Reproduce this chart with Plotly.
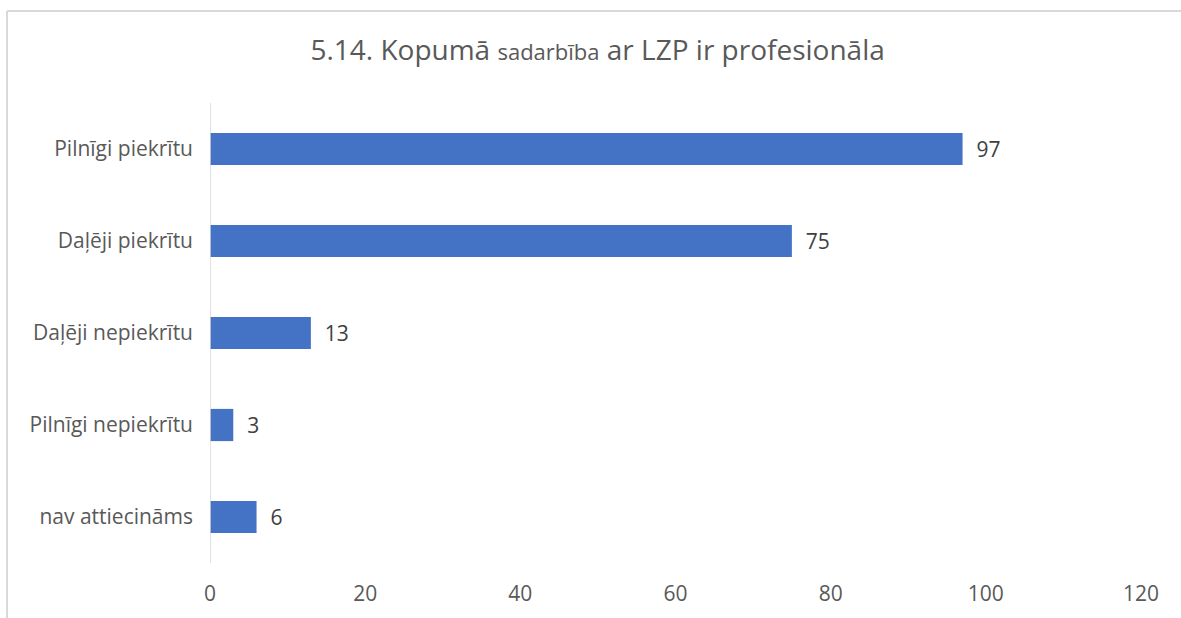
import plotly.graph_objects as go

categories = ["Pilnīgi piekrītu", "Daļēji piekrītu", "Daļēji nepiekrītu", "Pilnīgi nepiekrītu", "nav attiecināms"]
values = [97, 75, 13, 3, 6]
x_ticks = [0, 20, 40, 60, 80, 100, 120]

FONT = "'Open Sans', sans-serif"
W, H = 1181, 618
L, R, T, B = 210, 40, 103, 55
pw, ph = W - L - R, H - T - B
FS = 21

fig = go.Figure(go.Bar(
    x=values, y=categories, orientation="h",
    marker=dict(color="#4472C4", line=dict(width=0)),
    width=0.35,
    text=values, texttemplate="\u00a0\u00a0%{x}", textposition="outside",
    textfont=dict(family=FONT, size=FS, color="#404040"),
    cliponaxis=False,
))

fig.update_layout(
    width=W, height=H,
    margin=dict(l=L, r=R, t=T, b=B),
    paper_bgcolor="white", plot_bgcolor="white",
    font=dict(family=FONT, color="#595959", size=FS),
    title=dict(
        text="5.14. Kopumā <span style='font-size:22px'>sadarbība</span> ar LZP ir profesionāla",
        x=0.506, xanchor="center", y=0.918, yanchor="middle",
        font=dict(family=FONT, size=28, color="#595959"),
    ),
    showlegend=False,
    xaxis=dict(range=[0, 120], tickvals=x_ticks, showgrid=False, zeroline=False,
               showline=False, ticks="", tickfont=dict(size=FS, color="#595959"),
               ticklabelstandoff=16),
    yaxis=dict(autorange="reversed", showgrid=False, zeroline=False, showline=False,
               ticks="", tickfont=dict(size=FS, color="#595959"), ticklabelstandoff=16),
    shapes=[
        dict(type="line", xref="x", yref="paper", x0=0, x1=0, y0=0, y1=1,
             line=dict(color="#d9d9d9", width=1.5)),
        dict(type="line", xref="paper", yref="paper",
             x0=(7 - L) / pw, x1=(W + 5 - L) / pw,
             y0=(H - B - 11) / ph, y1=(H - B - 11) / ph,
             line=dict(color="#d9d9d9", width=2)),
        dict(type="line", xref="paper", yref="paper",
             x0=(7 - L) / pw, x1=(7 - L) / pw,
             y0=(H - B - 11) / ph, y1=(H - B - H - 5) / ph,
             line=dict(color="#d9d9d9", width=2)),
    ],
)

fig.write_html("out.html", config={"displayModeBar": False},
               post_script="document.body.style.margin='0';document.body.style.overflow='hidden';")
